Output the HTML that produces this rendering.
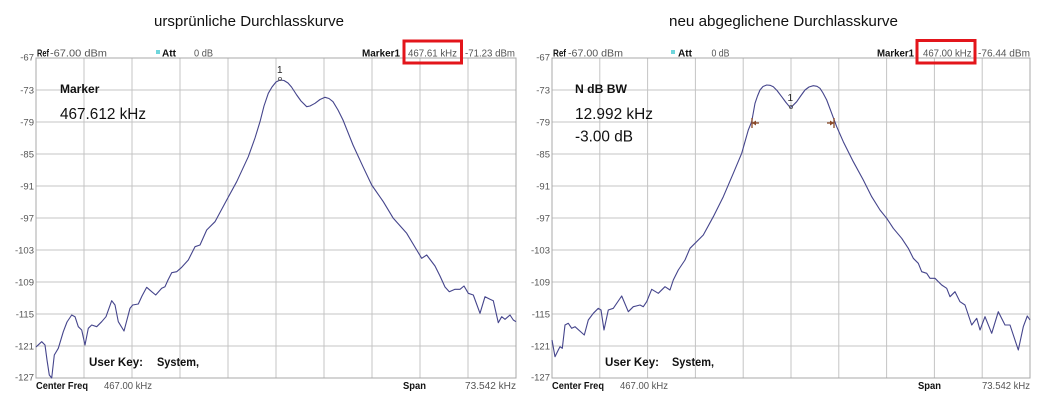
<!DOCTYPE html>
<html><head><meta charset="utf-8"><style>
html,body{margin:0;padding:0;background:#fff;}
svg{display:block;}
text{font-family:"Liberation Sans",Arial,sans-serif;}
.t{font-size:15px;fill:#111;}
.h{font-size:10px;fill:#555;}
.hb{font-size:10px;font-weight:bold;fill:#111;}
.y{font-size:9.5px;fill:#555;text-anchor:end;}
.big{font-size:15.5px;fill:#111;}
.mb{font-size:12px;font-weight:bold;fill:#111;}
.g{stroke:#c4c4c4;stroke-width:1;}
.b{fill:none;stroke:#a8a8a8;stroke-width:1;}
.c{fill:none;stroke:#45458c;stroke-width:1.1;stroke-linejoin:round;}
</style></head><body>
<svg width="1054" height="402" viewBox="0 0 1054 402" xmlns="http://www.w3.org/2000/svg">
<rect width="1054" height="402" fill="#fff"/>

<text class="t" x="154" y="26" textLength="190" lengthAdjust="spacingAndGlyphs">ursprünliche Durchlasskurve</text>
<text class="t" x="669" y="26" textLength="229" lengthAdjust="spacingAndGlyphs">neu abgeglichene Durchlasskurve</text>

<g class="g">
<line x1="84" y1="58" x2="84" y2="378"/><line x1="132" y1="58" x2="132" y2="378"/><line x1="180" y1="58" x2="180" y2="378"/><line x1="228" y1="58" x2="228" y2="378"/><line x1="276" y1="58" x2="276" y2="378"/><line x1="324" y1="58" x2="324" y2="378"/><line x1="372" y1="58" x2="372" y2="378"/><line x1="420" y1="58" x2="420" y2="378"/><line x1="468" y1="58" x2="468" y2="378"/>
<line x1="36" y1="90" x2="516" y2="90"/><line x1="36" y1="122" x2="516" y2="122"/><line x1="36" y1="154" x2="516" y2="154"/><line x1="36" y1="186" x2="516" y2="186"/><line x1="36" y1="218" x2="516" y2="218"/><line x1="36" y1="250" x2="516" y2="250"/><line x1="36" y1="282" x2="516" y2="282"/><line x1="36" y1="314" x2="516" y2="314"/><line x1="36" y1="346" x2="516" y2="346"/>
</g>
<rect class="b" x="36" y="58" width="480" height="320"/>

<text class="y" x="34" y="60.5">-67</text>
<text class="y" x="34" y="93.5">-73</text>
<text class="y" x="34" y="125.5">-79</text>
<text class="y" x="34" y="157.5">-85</text>
<text class="y" x="34" y="189.5">-91</text>
<text class="y" x="34" y="221.5">-97</text>
<text class="y" x="34" y="253.5">-103</text>
<text class="y" x="34" y="285.5">-109</text>
<text class="y" x="34" y="317.5">-115</text>
<text class="y" x="34" y="349.5">-121</text>
<text class="y" x="34" y="380.5">-127</text>

<text class="hb" x="37" y="56.5" textLength="12" lengthAdjust="spacingAndGlyphs">Ref</text>
<text class="h" x="50" y="56.5" textLength="57" lengthAdjust="spacingAndGlyphs">-67.00 dBm</text>
<rect x="156" y="50" width="4" height="4" fill="#6fd6dc"/>
<text class="hb" x="162" y="56.5" textLength="14" lengthAdjust="spacingAndGlyphs">Att</text>
<text class="h" x="194" y="56.5" textLength="19" lengthAdjust="spacingAndGlyphs">0 dB</text>
<text class="hb" x="362" y="56.5" textLength="38" lengthAdjust="spacingAndGlyphs">Marker1</text>
<text class="h" x="408" y="56.5" textLength="49" lengthAdjust="spacingAndGlyphs">467.61 kHz</text>
<text class="h" x="465" y="56.5" textLength="50" lengthAdjust="spacingAndGlyphs">-71.23 dBm</text>
<rect x="404" y="41" width="57.5" height="22" fill="none" stroke="#e3151b" stroke-width="3"/>

<text class="hb" x="36" y="389" textLength="52" lengthAdjust="spacingAndGlyphs">Center Freq</text>
<text class="h" x="104" y="389" textLength="48" lengthAdjust="spacingAndGlyphs">467.00 kHz</text>
<text class="hb" x="403" y="389" textLength="23" lengthAdjust="spacingAndGlyphs">Span</text>
<text class="h" x="465" y="389" textLength="51" lengthAdjust="spacingAndGlyphs">73.542 kHz</text>

<text class="mb" x="60" y="93">Marker</text>
<text class="big" x="60" y="119" textLength="86" lengthAdjust="spacingAndGlyphs">467.612 kHz</text>
<text class="mb" x="89" y="366" textLength="54" lengthAdjust="spacingAndGlyphs">User Key:</text>
<text class="mb" x="157" y="366" textLength="42" lengthAdjust="spacingAndGlyphs">System,</text>

<polyline class="c" points="36,347 41.7,341.7 45,345 47,360 49.3,375 51.7,378 54.3,355 58.3,348.3 63.3,331.7 67,322 71.7,315 75,316.7 78.3,326.7 81.7,330 85,345 88.3,328.3 91.7,325 96.7,326.7 101.7,321.7 106,316.7 111.7,300.7 115,305 118.3,321.7 124,331 130,308.3 132.7,305 138.3,304 142,296 146.7,287.3 151.7,291.7 155.7,295 161.7,288.3 165,286.7 168,280 171.7,272.7 176.7,271.7 181.7,267.3 188.3,260 195,246.7 200,245 206.7,230 215,221.7 226.7,200 236.7,181.7 248.3,156.7 255,138 260,121.7 264,106 268.3,93.3 272,87 276,82 280,80 284,80.5 288,83 291.5,87 296.7,95 301,101 306.7,106.7 310,106 315,103.3 320,99.5 325,97.3 329,98.5 333,101.7 338,110 343,120 353,145 363,166.7 371.7,185 383.3,201.7 393.3,218.3 406.7,233.3 416.7,250 421.7,258.3 426.7,255 435,266 440,276 445,287 449.3,291.7 455,289.3 460,289.3 464,286 468.3,293.3 473.3,295 480,313.3 485,296.7 490,299.3 493.3,300.7 498.3,322.7 501.7,316.7 505,319.3 510,315 513.3,320 516,321.7"/>
<circle cx="280" cy="79" r="1.6" fill="none" stroke="#555" stroke-width="0.8"/>
<text x="277" y="73" font-size="10" fill="#222">1</text>

<g class="g">
<line x1="599.8" y1="58" x2="599.8" y2="378"/><line x1="647.6" y1="58" x2="647.6" y2="378"/><line x1="695.4" y1="58" x2="695.4" y2="378"/><line x1="743.2" y1="58" x2="743.2" y2="378"/><line x1="791" y1="58" x2="791" y2="378"/><line x1="838.8" y1="58" x2="838.8" y2="378"/><line x1="886.6" y1="58" x2="886.6" y2="378"/><line x1="934.4" y1="58" x2="934.4" y2="378"/><line x1="982.2" y1="58" x2="982.2" y2="378"/>
<line x1="552" y1="90" x2="1030" y2="90"/><line x1="552" y1="122" x2="1030" y2="122"/><line x1="552" y1="154" x2="1030" y2="154"/><line x1="552" y1="186" x2="1030" y2="186"/><line x1="552" y1="218" x2="1030" y2="218"/><line x1="552" y1="250" x2="1030" y2="250"/><line x1="552" y1="282" x2="1030" y2="282"/><line x1="552" y1="314" x2="1030" y2="314"/><line x1="552" y1="346" x2="1030" y2="346"/>
</g>
<rect class="b" x="552" y="58" width="478" height="320"/>

<text class="y" x="550" y="60.5">-67</text>
<text class="y" x="550" y="93.5">-73</text>
<text class="y" x="550" y="125.5">-79</text>
<text class="y" x="550" y="157.5">-85</text>
<text class="y" x="550" y="189.5">-91</text>
<text class="y" x="550" y="221.5">-97</text>
<text class="y" x="550" y="253.5">-103</text>
<text class="y" x="550" y="285.5">-109</text>
<text class="y" x="550" y="317.5">-115</text>
<text class="y" x="550" y="349.5">-121</text>
<text class="y" x="550" y="380.5">-127</text>

<text class="hb" x="553" y="56.5" textLength="13" lengthAdjust="spacingAndGlyphs">Ref</text>
<text class="h" x="568" y="56.5" textLength="55" lengthAdjust="spacingAndGlyphs">-67.00 dBm</text>
<rect x="671" y="50" width="4" height="4" fill="#6fd6dc"/>
<text class="hb" x="678" y="56.5" textLength="14" lengthAdjust="spacingAndGlyphs">Att</text>
<text class="h" x="711.5" y="56.5" textLength="18" lengthAdjust="spacingAndGlyphs">0 dB</text>
<text class="hb" x="877" y="56.5" textLength="37" lengthAdjust="spacingAndGlyphs">Marker1</text>
<text class="h" x="923" y="56.5" textLength="48.5" lengthAdjust="spacingAndGlyphs">467.00 kHz</text>
<text class="h" x="978" y="56.5" textLength="52" lengthAdjust="spacingAndGlyphs">-76.44 dBm</text>
<rect x="917" y="40.5" width="58" height="22.5" fill="none" stroke="#e3151b" stroke-width="3"/>

<text class="hb" x="552" y="389" textLength="52" lengthAdjust="spacingAndGlyphs">Center Freq</text>
<text class="h" x="620" y="389" textLength="48" lengthAdjust="spacingAndGlyphs">467.00 kHz</text>
<text class="hb" x="918" y="389" textLength="23" lengthAdjust="spacingAndGlyphs">Span</text>
<text class="h" x="982" y="389" textLength="48" lengthAdjust="spacingAndGlyphs">73.542 kHz</text>

<text class="mb" x="575" y="93" textLength="52" lengthAdjust="spacingAndGlyphs">N dB BW</text>
<text class="big" x="575" y="119" textLength="78" lengthAdjust="spacingAndGlyphs">12.992 kHz</text>
<text class="big" x="575" y="141.5" textLength="58" lengthAdjust="spacingAndGlyphs">-3.00 dB</text>
<text class="mb" x="605" y="366" textLength="54" lengthAdjust="spacingAndGlyphs">User Key:</text>
<text class="mb" x="672" y="366" textLength="42" lengthAdjust="spacingAndGlyphs">System,</text>

<polyline class="c" points="552,340 555,356.7 558.3,350 560,346.7 562.3,348.3 565,325 568.3,323.3 571.7,328.3 575,326.7 584.3,335 588.3,320 593.3,313.3 598.3,308.3 601,310 604,330 608.3,310 613.3,308.3 621.7,296 628.3,311.7 633.3,306.7 640,305 643.3,306.7 646.7,301.7 651.7,289.3 658.3,293.3 665,286.7 670,290 673.3,280 678.3,270 685,260 690,248.3 703.3,235 713.3,216.7 723.3,196.7 733.3,173.3 741.7,153.3 748.3,130 751.7,121.7 755,103.3 757.5,96 760,90 763,86.5 766.7,85 770,85.3 773.3,86.7 777,90.5 781.7,96.7 786,102.5 790,107.3 791.7,106.7 796.7,101.7 801,95.5 805,90 809,87 813.3,85.7 817,86.3 820,88.3 823,93 826.7,100 831.7,113.3 836.7,126.7 843.3,141.7 853.3,161.7 863.3,180 871.7,196.7 880,210 886.7,218.3 893.3,228.3 901.7,238.3 908.3,248.3 913.3,258.3 918.3,263.3 921.7,271.7 926.7,273.3 930,278.3 935,278.3 941.7,285 946.7,288.3 950,296.7 955,291.7 960,301.7 965,305 971.7,325 976.7,318.3 980,330 985,316.7 991.7,333.3 998.3,311.7 1005,325 1010,325 1018.3,350 1023.3,326.7 1027.3,316 1030,320"/>
<circle cx="791" cy="107" r="1.6" fill="none" stroke="#555" stroke-width="0.8"/>
<text x="787.5" y="101" font-size="10" fill="#222">1</text>
<g stroke="#8a4a2a" stroke-width="1.3" fill="#8a4a2a">
<line x1="752" y1="118" x2="752" y2="128"/>
<line x1="752" y1="123" x2="759" y2="123"/>
<polygon points="752,123 756,120.5 756,125.5" stroke="none"/>
<line x1="834" y1="118" x2="834" y2="128"/>
<line x1="827" y1="123" x2="834" y2="123"/>
<polygon points="834,123 830,120.5 830,125.5" stroke="none"/>
</g>
</svg>
</body></html>
